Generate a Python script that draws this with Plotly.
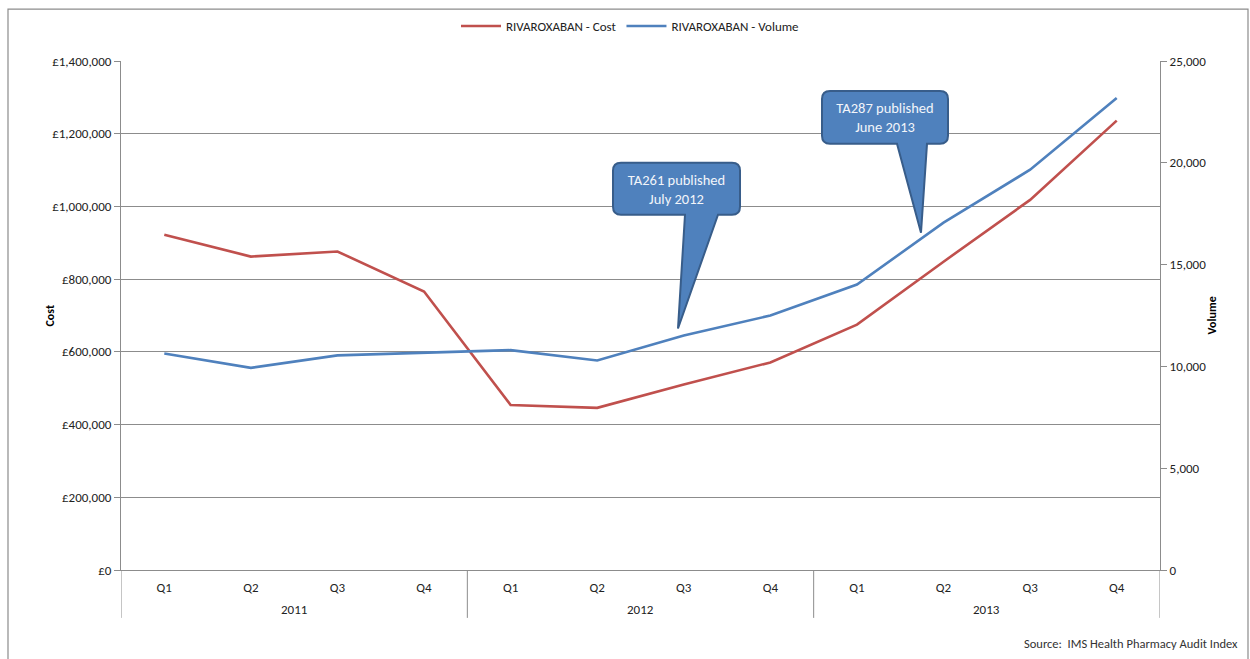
import plotly.graph_objects as go

years = ["2011", "2012", "2013"]
quarters = ["Q1", "Q2", "Q3", "Q4"]
cost = [922000, 862000, 876000, 766000, 454000, 446000, 510000, 571000,
        675000, 848000, 1018000, 1236000]
volume = [10630, 9930, 10540, 10680, 10800, 10290, 11520, 12500,
          14020, 17060, 19660, 23180]

cats = [f"{y} {q}" for y in years for q in quarters]
qlabels = [q for y in years for q in quarters]

FONT = "Carlito, Calibri, Liberation Sans, Arial, sans-serif"
RED = "#C0504D"
BLUE = "#4F81BD"
GRID = "#8C8C8C"

W, H = 1250, 659
L, R, T, B = 121, 1160, 60, 570


def px(x, y):
    return (x - L) / (R - L), (B - y) / (B - T)


def callout_path(x0, y0, x1, y1, bx0, bx1, tx, ty, r=8):
    pts = [
        ("M", [(x0 + r, y0)]), ("L", [(x1 - r, y0)]), ("Q", [(x1, y0), (x1, y0 + r)]),
        ("L", [(x1, y1 - r)]), ("Q", [(x1, y1), (x1 - r, y1)]),
        ("L", [(bx1, y1)]), ("L", [(tx, ty)]), ("L", [(bx0, y1)]),
        ("L", [(x0 + r, y1)]), ("Q", [(x0, y1), (x0, y1 - r)]),
        ("L", [(x0, y0 + r)]), ("Q", [(x0, y0), (x0 + r, y0)]),
    ]
    s = ""
    for cmd, ps in pts:
        s += cmd + " " + " ".join("%.5f,%.5f" % px(a, b) for a, b in ps) + " "
    return s + "Z"


def callout(shapes, box, tail, tip, text):
    x0, y0, x1, y1 = box
    shapes.append(dict(type="path", xref="paper", yref="paper",
                       path=callout_path(x0, y0, x1, y1, tail[0], tail[1], tip[0], tip[1]),
                       fillcolor=BLUE, line=dict(color="#385D8A", width=2)))
    a = px(x0, y1)
    b = px(x1, y0)
    shapes.append(dict(type="rect", xref="paper", yref="paper",
                       x0=a[0], y0=a[1], x1=b[0], y1=b[1],
                       fillcolor="rgba(0,0,0,0)", line=dict(width=0),
                       label=dict(text=text, textposition="middle center",
                                  font=dict(family=FONT, size=14.5, color="#F2F5FA"))))


fig = go.Figure()
fig.add_trace(go.Scatter(x=cats, y=cost, name="RIVAROXABAN - Cost", mode="lines",
                         line=dict(color=RED, width=2.6), yaxis="y"))
fig.add_trace(go.Scatter(x=cats, y=volume, name="RIVAROXABAN - Volume", mode="lines",
                         line=dict(color=BLUE, width=2.6), yaxis="y2"))

shapes = []
fx0, fy0 = px(8, 8)
fx1, fy1 = px(1248, 700)
shapes.append(dict(type="rect", xref="paper", yref="paper", x0=fx0, y0=fy1, x1=fx1, y1=fy0,
                   line=dict(color="#8C8C8C", width=1.2), layer="below"))
for xv in [-0.5, 3.5, 7.5, 11.5]:
    shapes.append(dict(type="line", xref="x", yref="paper", x0=xv, x1=xv, y0=0,
                       y1=px(0, 618)[1], line=dict(color=GRID, width=1)))
callout(shapes, (613, 162, 740, 214), (685, 718), (678, 328),
        "TA261 published<br>July 2012")
callout(shapes, (822, 90, 948, 143), (897, 927), (921, 232),
        "TA287 published<br>June 2013")

annotations = []
for i, yr in enumerate(years):
    annotations.append(dict(x=i * 4 + 1.5, xref="x", y=px(0, 610)[1], yref="paper",
                            text=yr, showarrow=False, yanchor="middle",
                            font=dict(family=FONT, size=13, color="#222")))
sx, sy = px(1240, 644)
annotations.append(dict(x=sx, y=sy, xref="paper", yref="paper", showarrow=False,
                        xanchor="right", yanchor="middle",
                        text="Source:  IMS Health Pharmacy Audit Index",
                        font=dict(family=FONT, size=12.5, color="#333")))
ax, ay = px(40, 315)
annotations.append(dict(x=ax, y=ay, xref="paper", yref="paper", showarrow=False,
                        text="<b>Cost</b>", textangle=-90,
                        font=dict(family=FONT, size=12, color="#000")))
ax, ay = px(1220, 315)
annotations.append(dict(x=ax, y=ay, xref="paper", yref="paper", showarrow=False,
                        text="<b>Volume</b>", textangle=-90,
                        font=dict(family=FONT, size=12, color="#000")))

lx, ly = px(630, 26)
fig.update_layout(
    width=W, height=H,
    margin=dict(l=L, r=W - R, t=T, b=H - B),
    paper_bgcolor="white", plot_bgcolor="white",
    font=dict(family=FONT, size=13, color="#222"),
    showlegend=True,
    legend=dict(orientation="h", x=lx, y=ly, xanchor="center", yanchor="middle",
                font=dict(family=FONT, size=13, color="#222"), itemwidth=40,
                tracegroupgap=0),
    xaxis=dict(type="category", range=[-0.5, 11.5], tickmode="array",
               tickvals=cats, ticktext=qlabels, showgrid=False, zeroline=False,
               showline=True, linecolor=GRID, linewidth=1,
               ticks="outside", ticklen=5, tickcolor="rgba(0,0,0,0)",
               tickfont=dict(family=FONT, size=13, color="#222")),
    yaxis=dict(range=[0, 1400000], tickvals=list(range(0, 1400001, 200000)),
               ticktext=["£0", "£200,000", "£400,000", "£600,000", "£800,000",
                         "£1,000,000", "£1,200,000", "£1,400,000"],
               showgrid=True, gridcolor=GRID, gridwidth=1, zeroline=False,
               showline=True, linecolor=GRID, linewidth=1,
               ticks="outside", ticklen=6, tickcolor=GRID,
               tickfont=dict(family=FONT, size=13, color="#222")),
    yaxis2=dict(range=[0, 25000], overlaying="y", side="right",
                tickvals=list(range(0, 25001, 5000)),
                ticktext=["0", "5,000", "10,000", "15,000", "20,000", "25,000"],
                showgrid=False, zeroline=False, showline=True, linecolor=GRID,
                linewidth=1, ticks="outside", ticklen=6, tickcolor=GRID,
                tickfont=dict(family=FONT, size=13, color="#222")),
    shapes=shapes,
    annotations=annotations,
)

fig.write_html("out.html")
